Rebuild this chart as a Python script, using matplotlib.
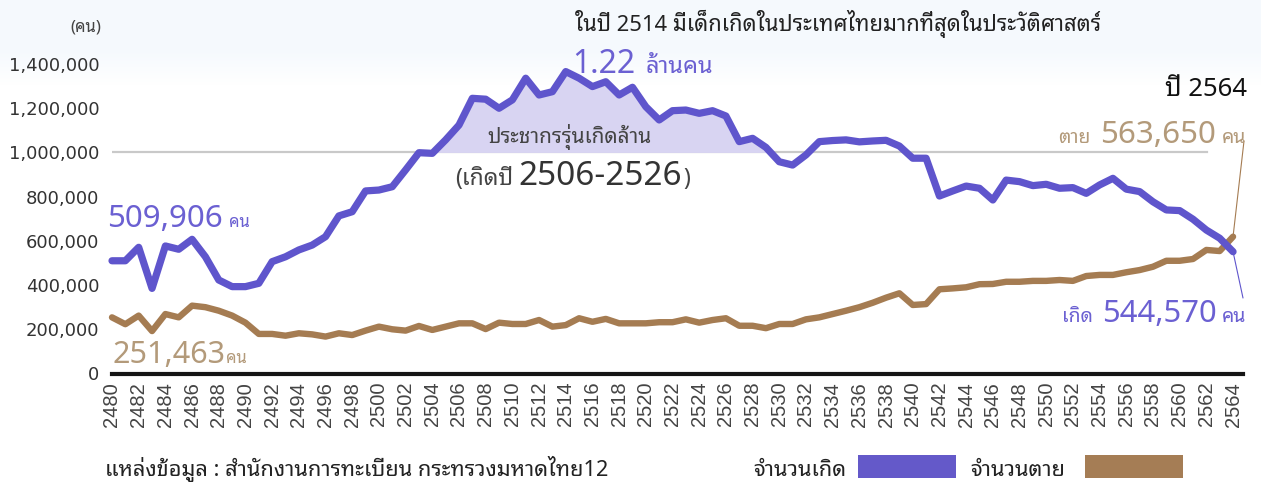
import numpy as np
import matplotlib
matplotlib.use('Agg')
import matplotlib.pyplot as plt
from matplotlib.patches import Rectangle

# ---- data ----
years = np.arange(2480, 2565)
births = np.array([
    510000, 510000, 571000, 385000, 577000, 562000, 607000, 528000, 423000, 393000,   # 2480-2489
    393000, 408000, 506000, 528000, 559000, 581000, 619000, 713000, 732000, 826000,   # 2490-2499
    830000, 845000, 921000, 999000, 996000, 1057000, 1124000, 1245000, 1241000, 1200000,  # 2500-2509
    1238000, 1336000, 1260000, 1275000, 1366000, 1336000, 1298000, 1320000, 1260000, 1295000,  # 2510-2519
    1207000, 1147000, 1189000, 1192000, 1177000, 1189000, 1165000, 1049000, 1064000, 1023000,  # 2520-2529
    958000, 943000, 989000, 1049000, 1054000, 1057000, 1048000, 1052000, 1055000, 1029000,  # 2530-2539
    974000, 974000, 803000, 826000, 848000, 838000, 785000, 875000, 868000, 850000,   # 2540-2549
    856000, 838000, 841000, 815000, 853000, 883000, 834000, 823000, 777000, 740000,   # 2550-2559
    737000, 698000, 649000, 612000, 551000,                                           # 2560-2564
])
deaths = np.array([
    254000, 223000, 262000, 192000, 269000, 254000, 307000, 300000, 284000, 262000,
    230000, 179000, 179000, 171000, 182000, 177000, 167000, 182000, 174000, 194000,
    212000, 200000, 194000, 215000, 197000, 212000, 227000, 227000, 201000, 230000,
    224000, 224000, 242000, 212000, 219000, 250000, 234000, 247000, 227000, 227000,
    227000, 232000, 232000, 245000, 230000, 242000, 250000, 216000, 216000, 205000,
    224000, 224000, 245000, 254000, 269000, 284000, 300000, 320000, 343000, 363000,
    310000, 314000, 381000, 385000, 390000, 404000, 405000, 415000, 415000, 419000,
    419000, 423000, 419000, 441000, 446000, 446000, 458000, 468000, 483000, 510000,
    510000, 518000, 559000, 554000, 619000,
])
yticks = [0, 200000, 400000, 600000, 800000, 1000000, 1200000, 1400000]
xticks = years[::2]
million = 1000000
cohort_end = 2530

PURPLE = '#5f55cc'
PURPLE_TXT = '#6b60d2'
TAN = '#a57c52'
TAN_TXT = '#b39a7a'
THAI = ['Noto Sans Thai Looped', 'DejaVu Sans']

W, H = 1261, 482
fig = plt.figure(figsize=(W / 100, H / 100), dpi=100)
renderer = fig.canvas.get_renderer()

# faint bluish band along the top
bg = fig.add_axes([0, 0, 1, 1], zorder=-5)
rows = np.arange(H)
t = np.clip((85 - rows) / 35, 0, 1)[:, None, None]
tint = np.array([0.962, 0.978, 0.995])
bg.imshow(np.ones((H, 1, 3)) * (1 - t) + tint * t, aspect='auto', extent=[0, 1, 0, 1])
bg.axis('off')


def fx(x):
    return x / W


def fy(y):
    return 1 - y / H


ax = fig.add_axes([fx(112), fy(373.5), (1243 - 112) / W, (373.5 - 53) / H])
ax.set_facecolor('none')
ax.set_xlim(2480.373, 2564.746)
ax.set_ylim(0, 1450000)

ax.axhline(million, xmin=0, xmax=0.968, color='#c9c9c9', lw=1.6, zorder=1)
ax.fill_between(years, births, million, where=(births >= million) & (years <= cohort_end),
                interpolate=True, color='#d8d4f2', lw=0, zorder=1)
ax.plot(years, deaths, color=TAN, lw=4.6, solid_joinstyle='round', solid_capstyle='round',
        clip_on=False, zorder=3)
ax.plot(years, births, color=PURPLE, lw=5.2, solid_joinstyle='round', solid_capstyle='round',
        clip_on=False, zorder=4)

for s in ['top', 'right', 'left']:
    ax.spines[s].set_visible(False)
ax.spines['bottom'].set_linewidth(3.0)
ax.spines['bottom'].set_color('#151515')
ax.spines['bottom'].set_zorder(5)

ax.set_yticks(yticks)
ax.set_yticklabels([f'{v:,}' for v in yticks], fontsize=13, color='#333333',
                   family='DejaVu Sans')
ax.tick_params(axis='y', length=0, pad=9)
ax.set_xticks(xticks)
ax.set_xticklabels([str(v) for v in xticks], rotation=90, fontsize=14.5, color='#444444',
                   family='Liberation Sans')
ax.tick_params(axis='x', length=0, pad=6)

# leader lines from the last points to the labels
ax.annotate('', xy=(years[-1], deaths[-1]), xytext=(1244, H - 141), textcoords='figure pixels',
            arrowprops=dict(arrowstyle='-', color=TAN, lw=0.8, shrinkA=0, shrinkB=0))
ax.annotate('', xy=(years[-1], births[-1]), xytext=(1243, H - 298), textcoords='figure pixels',
            arrowprops=dict(arrowstyle='-', color=PURPLE, lw=0.8, shrinkA=0, shrinkB=0))


def label(x, y, s, size, color, ha='left', va='baseline', weight='normal'):
    return fig.text(fx(x), fy(y), s, fontsize=size, color=color, ha=ha, va=va,
                    family=THAI, fontweight=weight)


def chain(x, y, parts):
    # parts: (text, size, color, weight, gap after)
    for s, size, color, weight, gap in parts:
        txt = label(x, y, s, size, color, weight=weight)
        x = txt.get_window_extent(renderer).x1 + gap


label(86, 27, '(คน)', 12, '#444444', ha='center', va='center')
label(575, 31, 'ในปี 2514 มีเด็กเกิดในประเทศไทยมากที่สุดในประวัติศาสตร์', 15.8, '#222222')

chain(572, 73, [('1.22', 23, PURPLE_TXT, 'light', 10), ('ล้านคน', 17, PURPLE_TXT, 'normal', 0)])
label(487, 143, 'ประชากรรุ่นเกิดล้าน', 15, '#444444')
chain(455, 185, [('(เกิดปี', 16.5, '#444444', 'normal', 5),
                 ('2506-2526', 24, '#333333', 'light', 2),
                 (')', 16.5, '#444444', 'normal', 0)])

chain(107, 227, [('509,906', 22.5, PURPLE_TXT, 'light', 6), ('คน', 12, PURPLE_TXT, 'normal', 0)])
chain(112, 363, [('251,463', 22, TAN_TXT, 'light', 1), ('คน', 12, TAN_TXT, 'normal', 0)])

label(1247, 96, 'ปี 2564', 18.5, '#111111', ha='right')
label(1058, 143, 'ตาย', 14, TAN_TXT)
label(1100, 143, '563,650', 22.5, TAN_TXT, weight='light')
label(1222, 143, 'คน', 14, TAN_TXT)
label(1062, 322, 'เกิด', 14, PURPLE_TXT)
label(1102, 322, '544,570', 22.3, PURPLE_TXT, weight='light')
label(1222, 322, 'คน', 14, PURPLE_TXT)

label(105, 476, 'แหล่งข้อมูล : สำนักงานการทะเบียน กระทรวงมหาดไทย12', 15.7, '#222222')
label(753, 476, 'จำนวนเกิด', 15.7, '#222222')
label(970, 476, 'จำนวนตาย', 15.7, '#222222')
fig.patches.append(Rectangle((fx(858), fy(478)), 98 / W, 23 / H, transform=fig.transFigure,
                             color='#6459c9', lw=0))
fig.patches.append(Rectangle((fx(1085), fy(478)), 98 / W, 23 / H, transform=fig.transFigure,
                             color='#a57d55', lw=0))

fig.savefig('out.png', dpi=100)
